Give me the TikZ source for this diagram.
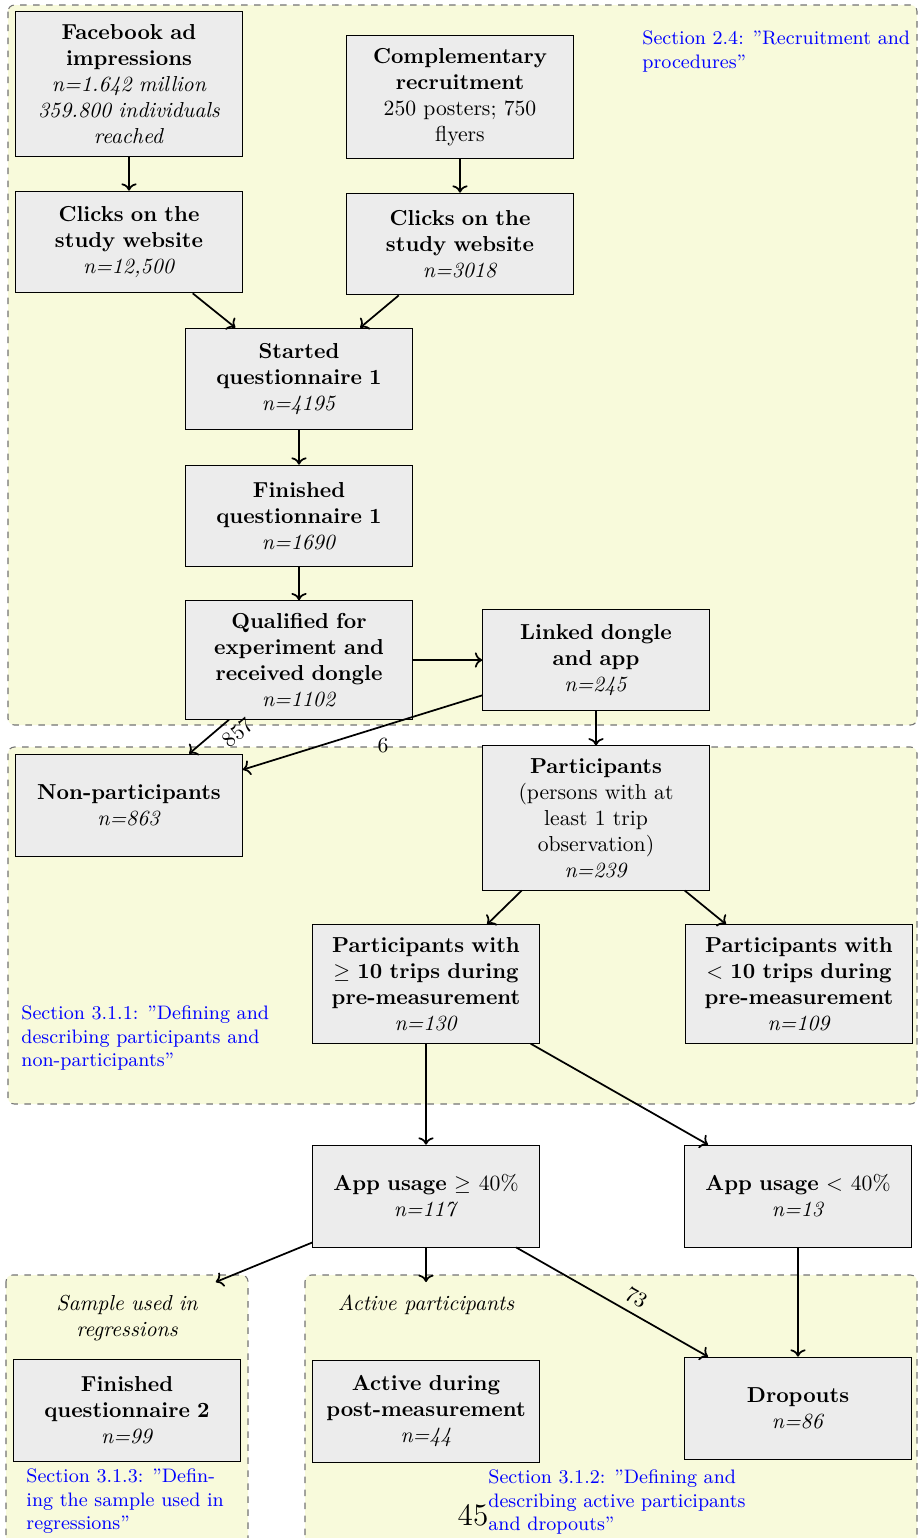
\documentclass[tikz,border=0pt]{standalone}
\usepackage{tikz}
\usepackage{xcolor}
\usepackage{amsmath}
\usetikzlibrary{arrows.meta,positioning,calc}
\definecolor{regionfill}{HTML}{F8FADB}

\begin{document}
\begin{tikzpicture}[x=0.4615pt,y=-0.4615pt,
    box/.style={draw,fill=gray!15,text width=98pt,minimum height=47pt,inner ysep=5.75pt,align=center},
    region/.style={draw=gray!90!black,line width=0.5pt,dashed,fill=regionfill,rounded corners=3pt},
    regiontitle/.style={font=\itshape,align=center,anchor=north,inner sep=6pt},
    secref/.style={font=\small,text=blue,align=left,anchor=north west,inner sep=0pt},
    flow/.style={-{To},thick}]
    \useasboundingbox (0,0) rectangle (918,1538);
    \clip (0,0) rectangle (918,1538);
    % shaded sections
    \path[region] (8,5) rectangle (917,725);
    \path[region] (8,747) rectangle (917,1104);
    \path[region] (6,1275) rectangle (248,1560);
    \path[region] (305,1275) rectangle (917,1560);
    % recruitment
    \node[box] (fb) at (129,84) {\textbf{Facebook ad\\impressions}\\\textit{n=1.642 million\\359.800 individuals\\reached}};
    \node[box] (compl) at (460,97) {\textbf{Complementary\\recruitment}\\250 posters; 750\\flyers};
    \node[box] (clicksfb) at (129,242) {\textbf{Clicks on the\\study website}\\\textit{n=12,500}};
    \node[box] (clickscompl) at (460,244) {\textbf{Clicks on the\\study website}\\\textit{n=3018}};
    \node[box] (startq) at (299,379) {\textbf{Started\\questionnaire 1}\\\textit{n=4195}};
    \node[box] (finq) at (299,516) {\textbf{Finished\\questionnaire 1}\\\textit{n=1690}};
    \node[box] (qualified) at (299,660) {\textbf{Qualified for\\experiment and\\received dongle}\\\textit{n=1102}};
    \node[box] (linked) at (596,660) {\textbf{Linked dongle\\and app}\\\textit{n=245}};
    % participants
    \node[box] (nonpart) at (129,805) {\textbf{Non-participants}\\\textit{n=863}};
    \node[box] (part) at (596,818) {\textbf{Participants}\\(persons with at\\least 1 trip\\observation)\\\textit{n=239}};
    \node[box] (highpre) at (426,984) {\textbf{Participants with\\$\geq$ 10 trips during\\pre-measurement}\\\textit{n=130}};
    \node[box] (lowpre) at (799,984) {\textbf{Participants with\\$<$ 10 trips during\\pre-measurement}\\\textit{n=109}};
    \node[box] (highapp) at (426,1196) {\textbf{App usage} $\geq 40\%$\\\textit{n=117}};
    \node[box] (lowapp) at (798,1196) {\textbf{App usage} $< 40\%$\\\textit{n=13}};
    % samples
    \node[regiontitle,text width=72pt] (sampletitle) at (127,1282) {Sample used in\\regressions};
    \node[regiontitle] (activetitle) at (426,1282) {Active participants};
    \node[box] (finq2) at (127,1410) {\textbf{Finished\\questionnaire 2}\\\textit{n=99}};
    \node[box] (activepost) at (426,1411) {\textbf{Active during\\post-measurement}\\\textit{n=44}};
    \node[box] (dropouts) at (798,1408) {\textbf{Dropouts}\\\textit{n=86}};
    % section references
    \node[secref] (sec24) at (642,30) {Section 2.4: ''Recruitment and\\procedures''};
    \node[secref] (sec311) at (21,1005) {Section 3.1.1: ''Defining and\\describing participants and\\non-participants''};
    \node[secref] (sec313) at (26,1468) {Section 3.1.3: ''Defin-\\ing the sample used in\\regressions''};
    \node[secref] (sec312) at (488,1469) {Section 3.1.2: ''Defining and\\describing active participants\\and dropouts''};
    \node[font=\Large,inner sep=0pt] (pagenum) at (473,1515) {45};
    % arrows
    \draw[flow] (fb) -- (clicksfb);
    \draw[flow] (compl) -- (clickscompl);
    \draw[flow] (clicksfb) -- (startq);
    \draw[flow] (clickscompl) -- (startq);
    \draw[flow] (startq) -- (finq);
    \draw[flow] (finq) -- (qualified);
    \draw[flow] (qualified) -- (linked);
    \draw[flow] (qualified) -- node[sloped,below right] {857} (nonpart);
    \draw[flow] (linked) -- node[below=2pt,pos=0.414] {6} (nonpart);
    \draw[flow] (linked) -- (part);
    \draw[flow] (part) -- (highpre);
    \draw[flow] (part) -- (lowpre);
    \draw[flow] (highpre) -- (highapp);
    \draw[flow] (highpre) -- (lowapp);
    \draw[flow] (highapp) -- (sampletitle);
    \draw[flow] (highapp) -- (activetitle);
    \draw[flow] (highapp) -- node[sloped,above right] {73} (dropouts);
    \draw[flow] (lowapp) -- (dropouts);
\end{tikzpicture}
\end{document}
